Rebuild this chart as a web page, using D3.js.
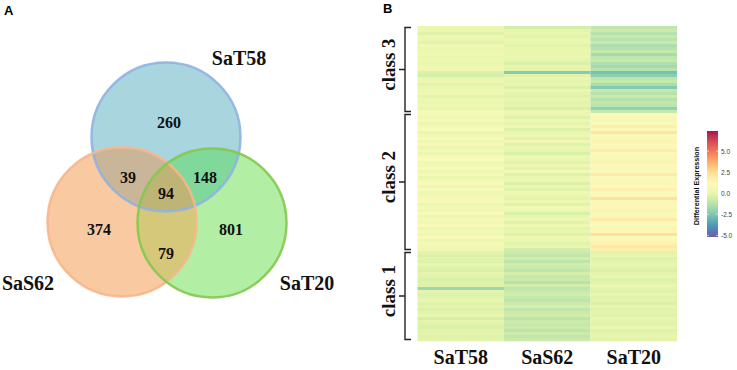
<!DOCTYPE html>
<html><head><meta charset="utf-8">
<script src="https://cdn.jsdelivr.net/npm/d3@7"></script>
<style>body{margin:0;background:#fff}svg{display:block}</style>
</head><body>
<svg id="c" width="737" height="370"></svg>
<script>
// ---------- DATA ----------
const vennSets = ["SaT58", "SaS62", "SaT20"];
const vennRegions = ["T58", "S62", "T20", "T58&S62", "T58&T20", "S62&T20", "all"];
const vennCounts = [260, 374, 801, 39, 148, 79, 94];

const heatColumns = ["SaT58", "SaS62", "SaT20"];
const heatClasses = ["class 3", "class 2", "class 1"];

const class3_SaT58 = [0.2,0.1,-0.3,0.2,0.1,-0.2,0.3,0.1,0.2,0.3,0.1,0.2,0.0,0.3,0.2,-0.4,-0.6,0.1,0.2,-0.2,0.1,0.2,0.3,-0.1,0.2,0.1,0.3,0.0,0.6];
const class3_SaS62 = [-0.6,-0.1,0.0,-0.1,0.1,0.0,-0.2,0.0,0.1,0.0,0.1,-0.1,-0.5,0.0,-0.1,-2.4,-0.2,0.1,-0.1,0.0,-0.4,0.1,-0.1,-0.3,0.0,-0.2,-0.1,-0.4,0.2];
const class3_SaT20 = [-1.1,-0.8,-1.4,-1.0,-1.3,-0.9,-1.6,-1.4,-1.0,-1.7,-1.1,-1.0,-1.5,-1.8,-1.3,-2.8,-2.3,-1.2,-1.0,-1.6,-2.5,-1.0,-1.3,-0.9,-1.4,-1.1,-1.2,-2.2,-1.0];

const class2_SaT58 = [0.6,0.3,0.9,0.2,0.5,0.8,0.1,0.4,0.7,0.3,0.9,0.2,0.5,0.1,0.6,0.8,0.3,0.4,0.9,0.2,0.6,0.1,0.5,0.7,0.3,0.8,0.2,0.4,0.6,0.9,0.1,0.5,0.3,0.7,0.2,0.6,0.4,0.8,0.1,0.5,0.3,0.9,0.2,0.6,0.4,0.3];
const class2_SaS62 = [0.1,-0.3,0.2,-0.1,0.3,-0.4,0.0,0.2,-0.2,0.4,-0.3,0.1,0.0,-0.5,0.2,0.1,-0.2,0.3,-0.1,0.5,-0.3,0.0,0.2,-0.4,0.1,-0.2,0.3,0.0,-0.1,0.2,-0.3,0.4,0.1,-0.5,0.0,0.2,-0.2,0.3,-0.1,0.0,-0.3,0.2,0.1,-0.2,0.0,-0.7];
const class2_SaT20 = [0.8,1.2,0.6,1.0,1.8,0.9,2.2,1.1,0.7,1.5,0.9,1.3,1.9,0.8,1.2,0.6,1.6,1.0,1.4,0.9,2.0,1.1,0.7,1.3,1.0,1.7,0.8,1.2,2.3,0.9,1.4,1.0,1.6,0.7,1.2,2.0,1.1,0.8,1.5,1.3,2.4,0.9,1.2,1.6,2.1,1.8];

const class1_SaT58 = [-0.1,-0.4,-0.2,-0.3,0.0,-0.3,-0.4,-0.1,-0.2,-0.5,-0.3,-0.3,-1.9,-0.1,-0.3,-0.2,0.0,-0.3,-0.1,-0.4,-0.2,0.0,-0.6,-0.1,-0.3,-0.4,-0.2,-0.1,-0.3,-0.2];
const class1_SaS62 = [-0.8,-1.1,-0.7,-1.2,-0.7,-0.9,-1.1,-0.6,-1.0,-0.8,-1.3,-0.7,-1.1,-0.9,-0.7,-1.0,-1.2,-0.8,-0.6,-1.1,-0.8,-0.7,-1.2,-0.9,-1.0,-0.8,-1.2,-0.8,-1.1,-0.9];
const class1_SaT20 = [-0.2,0.0,-0.3,-0.1,0.0,-0.2,-0.4,-0.1,0.0,-0.3,-0.2,0.1,-0.1,-0.3,0.0,-0.2,-0.1,-0.4,0.0,-0.2,-0.1,-0.3,0.0,-0.1,-0.2,0.1,-0.3,-0.1,0.0,-0.2];

const legendTicks = [-5.0, -2.5, 0.0, 2.5, 5.0];
const legendDomain = [-5.2, 7.4];

// ---------- DRAW ----------
const svg = d3.select("#c");
const serif = "'Liberation Serif','Times New Roman',serif";
const sans = "'Liberation Sans',Arial,sans-serif";

// Panel letters
svg.append("text").attr("x", 4).attr("y", 15).text("A")
  .attr("font-family", sans).attr("font-weight", "bold").attr("font-size", 13);
svg.append("text").attr("x", 383).attr("y", 13).text("B")
  .attr("font-family", sans).attr("font-weight", "bold").attr("font-size", 13);

// ---------- Venn ----------
const R = 74.5;
const circles = [
  {name: "SaT58", cx: 166, cy: 137, fill: "#a9d5df", stroke: "#8fb2e2"},
  {name: "SaS62", cx: 122, cy: 222, fill: "#f9c9a2", stroke: "#f7b68c"},
  {name: "SaT20", cx: 212, cy: 223, fill: "#b2eea3", stroke: "#84c84e"}
];
const defs = svg.append("defs");
circles.forEach((c, i) => {
  defs.append("clipPath").attr("id", "clip" + i)
    .append("circle").attr("cx", c.cx).attr("cy", c.cy).attr("r", R);
});
defs.append("clipPath").attr("id", "clip12").attr("clip-path", "url(#clip1)")
  .append("circle").attr("cx", circles[2].cx).attr("cy", circles[2].cy).attr("r", R);

const venn = svg.append("g");
circles.forEach(c => {
  venn.append("circle").attr("cx", c.cx).attr("cy", c.cy).attr("r", R).attr("fill", c.fill);
});
venn.append("circle").attr("cx", circles[0].cx).attr("cy", circles[0].cy).attr("r", R)
  .attr("clip-path", "url(#clip1)").attr("fill", "#c9b597");
venn.append("circle").attr("cx", circles[0].cx).attr("cy", circles[0].cy).attr("r", R)
  .attr("clip-path", "url(#clip2)").attr("fill", "#80d99a");
venn.append("circle").attr("cx", circles[1].cx).attr("cy", circles[1].cy).attr("r", R)
  .attr("clip-path", "url(#clip2)").attr("fill", "#d6c87a");
venn.append("circle").attr("cx", circles[0].cx).attr("cy", circles[0].cy).attr("r", R)
  .attr("clip-path", "url(#clip12)").attr("fill", "#bdb476");
circles.forEach(c => {
  venn.append("circle").attr("cx", c.cx).attr("cy", c.cy).attr("r", R)
    .attr("fill", "none").attr("stroke", c.stroke).attr("stroke-width", 2.5).attr("stroke-opacity", 0.9);
});

const regionPos = {
  "T58": [169, 122], "S62": [99, 229], "T20": [231, 229],
  "T58&S62": [128, 177], "T58&T20": [205, 177], "S62&T20": [166, 253], "all": [166, 193]
};
vennRegions.forEach((r, i) => {
  venn.append("text").attr("x", regionPos[r][0]).attr("y", regionPos[r][1])
    .attr("text-anchor", "middle").attr("dominant-baseline", "central")
    .attr("font-family", serif).attr("font-weight", "bold").attr("font-size", 16)
    .attr("fill", "#111").text(vennCounts[i]);
});
const setLabelPos = [[239, 58, "middle"], [28, 283, "middle"], [307, 283, "middle"]];
vennSets.forEach((s, i) => {
  venn.append("text").attr("x", setLabelPos[i][0]).attr("y", setLabelPos[i][1])
    .attr("text-anchor", setLabelPos[i][2]).attr("dominant-baseline", "central")
    .attr("font-family", serif).attr("font-weight", "bold").attr("font-size", 20)
    .attr("fill", "#111").text(s);
});

// ---------- Heatmap ----------
const classData = {
  "class 3": [class3_SaT58, class3_SaS62, class3_SaT20],
  "class 2": [class2_SaT58, class2_SaS62, class2_SaT20],
  "class 1": [class1_SaT58, class1_SaS62, class1_SaT20]
};
const rows = [];
heatClasses.forEach(cls => {
  const arrs = classData[cls];
  arrs[0].forEach((_, k) => rows.push({cls, id: cls + "_" + k, vals: arrs.map(a => a[k])}));
});
const x = d3.scaleBand().domain(heatColumns).range([417.5, 677]);
const y = d3.scaleBand().domain(rows.map(r => r.id)).range([26, 341]);
const color = d3.scaleSequential(t => d3.interpolateSpectral(1 - t)).domain(legendDomain);

const heat = svg.append("g").attr("opacity", 0.88);
rows.forEach(r => {
  heatColumns.forEach((col, j) => {
    heat.append("rect").attr("x", x(col)).attr("y", y(r.id))
      .attr("width", x.bandwidth()).attr("height", y.bandwidth() + 0.3)
      .attr("fill", color(r.vals[j]));
  });
});

heatClasses.forEach(cls => {
  const ids = rows.filter(r => r.cls === cls).map(r => r.id);
  const y0 = y(ids[0]) + 1.5, y1 = y(ids[ids.length - 1]) + y.bandwidth() - 1.5;
  const ym = (y0 + y1) / 2;
  svg.append("path")
    .attr("d", `M411,${y0}H405V${y1}H411M405,${ym}H399`)
    .attr("fill", "none").attr("stroke", "#222").attr("stroke-width", 1.4);
  svg.append("text").attr("transform", `translate(388,${ym - 5}) rotate(-90)`)
    .attr("text-anchor", "middle").attr("dominant-baseline", "central")
    .attr("font-family", serif).attr("font-weight", "bold").attr("font-size", 19)
    .attr("fill", "#111").text(cls);
});

heatColumns.forEach(col => {
  svg.append("text").attr("x", x(col) + x.bandwidth() / 2).attr("y", 357)
    .attr("text-anchor", "middle").attr("dominant-baseline", "central")
    .attr("font-family", serif).attr("font-weight", "bold").attr("font-size", 20)
    .attr("fill", "#111").text(col);
});

// ---------- Legend ----------
const ly = d3.scaleLinear().domain(legendDomain).range([237, 131]);
const lg = defs.append("linearGradient").attr("id", "lg")
  .attr("x1", 0).attr("y1", 1).attr("x2", 0).attr("y2", 0);
d3.range(0, 1.0001, 0.05).forEach(t => {
  lg.append("stop").attr("offset", t)
    .attr("stop-color", color(legendDomain[0] + t * (legendDomain[1] - legendDomain[0])));
});
svg.append("rect").attr("x", 707).attr("y", 131).attr("width", 11).attr("height", 106)
  .attr("fill", "url(#lg)").attr("opacity", 0.92);
legendTicks.forEach(v => {
  svg.append("line").attr("x1", 707).attr("x2", 709).attr("y1", ly(v)).attr("y2", ly(v))
    .attr("stroke", "#fff").attr("stroke-width", 0.6);
  svg.append("line").attr("x1", 716).attr("x2", 718).attr("y1", ly(v)).attr("y2", ly(v))
    .attr("stroke", "#fff").attr("stroke-width", 0.6);
  svg.append("text").attr("x", 721).attr("y", ly(v)).attr("dominant-baseline", "central")
    .attr("font-family", sans).attr("font-size", 6.5).attr("fill", "#444")
    .text(d3.format(".1f")(v).replace("−", "-"));
});
svg.append("text").attr("transform", "translate(696,186) rotate(-90)")
  .attr("text-anchor", "middle").attr("dominant-baseline", "central")
  .attr("font-family", sans).attr("font-weight", "bold").attr("font-size", 7.2)
  .attr("fill", "#111").text("Differential Expression");
</script>
</body></html>
